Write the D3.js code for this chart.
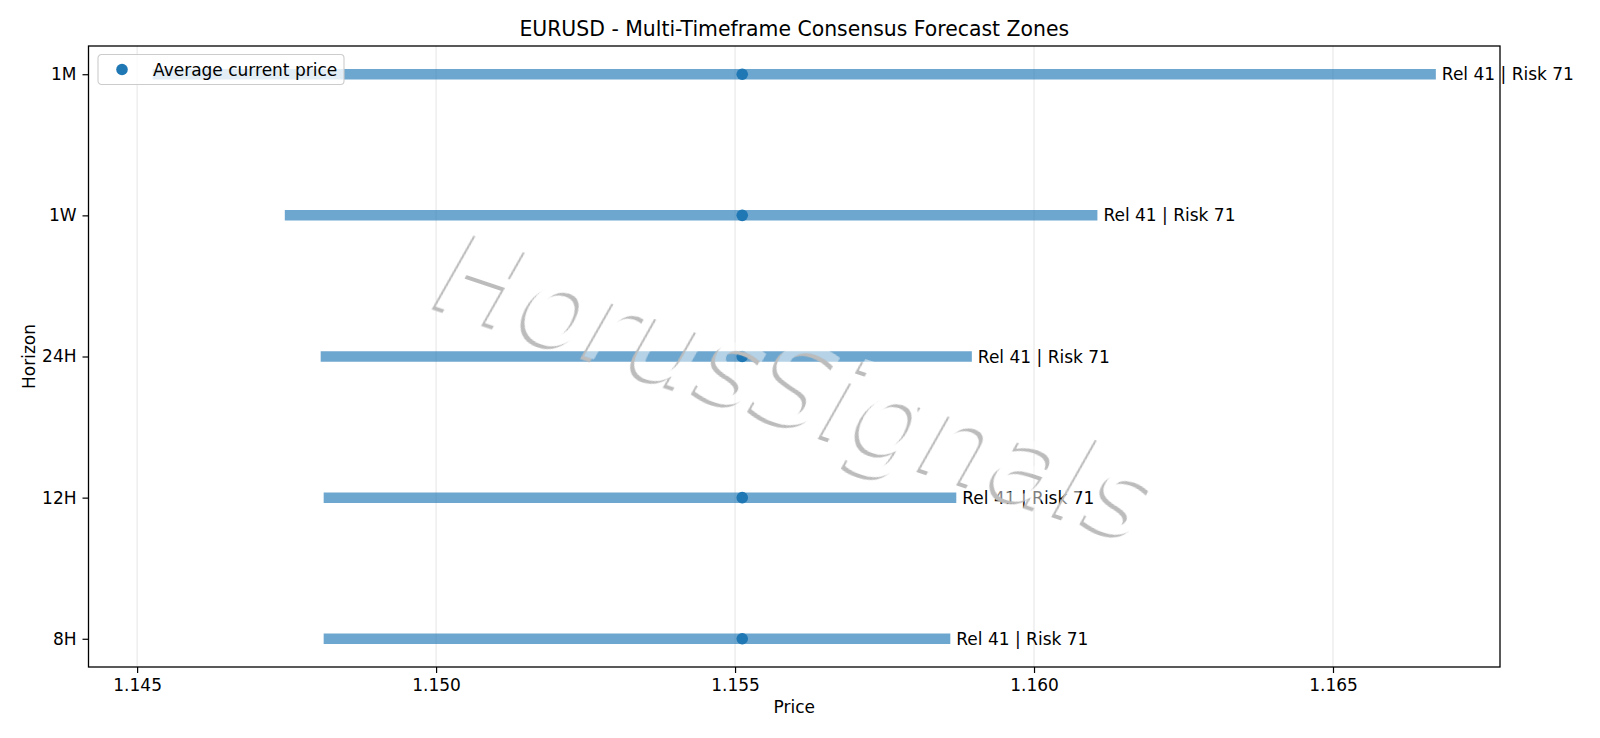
<!DOCTYPE html>
<html>
<head>
<meta charset="utf-8">
<script src="https://cdn.jsdelivr.net/npm/d3@7"></script>
<style>
  body { margin: 0; background: #fff; }
  svg { font-family: "DejaVu Sans", sans-serif; display: block; }
</style>
</head>
<body>
<svg id="drawing_region"></svg>
<script>
// values
const horizons = ["8H", "12H", "24H", "1W", "1M"];
const zoneLow  = [1.14812, 1.14812, 1.14807, 1.14747, 1.14526];
const zoneHigh = [1.15860, 1.15870, 1.15896, 1.16106, 1.16672];
const currentPrice = [1.15512, 1.15512, 1.15512, 1.15512, 1.15512];
const reliability = [41, 41, 41, 41, 41];
const risk = [71, 71, 71, 71, 71];

const width = 1600, height = 738;
const margin = {top: 46, right: 100, bottom: 71, left: 88.5};
const innerW = width - margin.left - margin.right;
const innerH = height - margin.top - margin.bottom;
const fs = 17;

const svg = d3.select("#drawing_region")
    .attr("width", width)
    .attr("height", height);

// watermark filter: grey drop edge + translucent white glyphs
const defs = svg.append("defs");
const f = defs.append("filter").attr("id", "wm")
    .attr("x", "-20%").attr("y", "-40%").attr("width", "140%").attr("height", "180%");
f.append("feOffset").attr("in", "SourceAlpha").attr("dx", -3.5).attr("dy", 4).attr("result", "off0");
f.append("feGaussianBlur").attr("in", "off0").attr("stdDeviation", 0.6).attr("result", "off");
f.append("feComposite").attr("in", "off").attr("in2", "SourceAlpha").attr("operator", "out").attr("result", "edge");
f.append("feFlood").attr("flood-color", "#bcbcbc").attr("result", "grey");
f.append("feComposite").attr("in", "grey").attr("in2", "edge").attr("operator", "in").attr("result", "shadow");
f.append("feComponentTransfer").attr("in", "SourceGraphic").attr("result", "face")
    .append("feFuncA").attr("type", "linear").attr("slope", 0.5);
const merge = f.append("feMerge");
merge.append("feMergeNode").attr("in", "shadow");
merge.append("feMergeNode").attr("in", "face");

const chart = svg.append("g")
    .attr("transform", `translate(${margin.left}, ${margin.top})`);

// x domain with matplotlib-like 5% margins
const lo = d3.min(zoneLow), hi = d3.max(zoneHigh), pad = (hi - lo) * 0.05;
const xscale = d3.scaleLinear().domain([lo - pad, hi + pad]).range([0, innerW]);
const yscale = d3.scalePoint().domain(horizons).range([innerH, 0]).padding(0.2);

const xticks = xscale.ticks(5);

// grid
chart.append("g").selectAll("line")
    .data(xticks).enter().append("line")
    .attr("x1", d => xscale(d)).attr("x2", d => xscale(d))
    .attr("y1", 0).attr("y2", innerH)
    .attr("stroke", "#b0b0b0").attr("stroke-opacity", 0.3).attr("stroke-width", 1.1);

const rows = horizons.map((h, i) => ({h, lo: zoneLow[i], hi: zoneHigh[i], cur: currentPrice[i], rel: reliability[i], risk: risk[i]}));

// zones
chart.append("g").selectAll("line")
    .data(rows).enter().append("line")
    .attr("x1", d => xscale(d.lo)).attr("x2", d => xscale(d.hi))
    .attr("y1", d => yscale(d.h)).attr("y2", d => yscale(d.h))
    .attr("stroke", "#1f77b4").attr("stroke-opacity", 0.65).attr("stroke-width", 10.5);

// current price markers
chart.append("g").selectAll("circle")
    .data(rows).enter().append("circle")
    .attr("cx", d => xscale(d.cur)).attr("cy", d => yscale(d.h))
    .attr("r", 5.8).attr("fill", "#1f77b4");

// watermark
svg.append("text")
    .attr("transform", "translate(798, 386) rotate(18.5)")
    .attr("text-anchor", "middle")
    .attr("dominant-baseline", "central")
    .attr("font-size", 114)
    .attr("font-style", "italic")
    .attr("fill", "#ffffff")
    .attr("filter", "url(#wm)")
    .text("HorusSignals");

// labels
chart.append("g").selectAll("text")
    .data(rows).enter().append("text")
    .attr("x", d => xscale(d.hi) + 6).attr("y", d => yscale(d.h))
    .attr("dominant-baseline", "central")
    .attr("font-size", fs)
    .attr("fill", "black")
    .text(d => `Rel ${d.rel} | Risk ${d.risk}`);

// axes
const xaxis = d3.axisBottom(xscale).tickValues(xticks).tickFormat(d3.format(".3f")).tickSizeOuter(0).tickSize(6).tickPadding(6);
const yaxis = d3.axisLeft(yscale).tickSizeOuter(0).tickSize(6).tickPadding(6);

const xg = chart.append("g").attr("transform", `translate(0, ${innerH})`).call(xaxis);
const yg = chart.append("g").call(yaxis);
[xg, yg].forEach(g => {
    g.select(".domain").remove();
    g.selectAll("text").attr("font-size", fs).attr("font-family", "DejaVu Sans").attr("fill", "black");
    g.selectAll("line").attr("stroke", "black").attr("stroke-width", 1.2);
});

// frame
chart.append("rect")
    .attr("width", innerW).attr("height", innerH)
    .attr("fill", "none").attr("stroke", "black").attr("stroke-width", 1.3);

// legend
const lg = chart.append("g").attr("transform", "translate(9.5, 8.5)");
lg.append("rect")
    .attr("width", 246).attr("height", 30).attr("rx", 3.5)
    .attr("fill", "white").attr("fill-opacity", 0.8)
    .attr("stroke", "#cccccc").attr("stroke-width", 1.1);
lg.append("circle").attr("cx", 24).attr("cy", 15).attr("r", 5.8).attr("fill", "#1f77b4");
lg.append("text").attr("x", 55).attr("y", 15)
    .attr("dominant-baseline", "central").attr("font-size", fs)
    .text("Average current price");

// titles
svg.append("text")
    .attr("x", margin.left + innerW / 2).attr("y", 36)
    .attr("text-anchor", "middle").attr("font-size", 20.4)
    .text("EURUSD - Multi-Timeframe Consensus Forecast Zones");

svg.append("text")
    .attr("x", margin.left + innerW / 2).attr("y", 713)
    .attr("text-anchor", "middle").attr("font-size", fs)
    .text("Price");

svg.append("text")
    .attr("transform", `translate(35, ${margin.top + innerH / 2}) rotate(-90)`)
    .attr("text-anchor", "middle").attr("font-size", fs)
    .text("Horizon");
</script>
</body>
</html>
